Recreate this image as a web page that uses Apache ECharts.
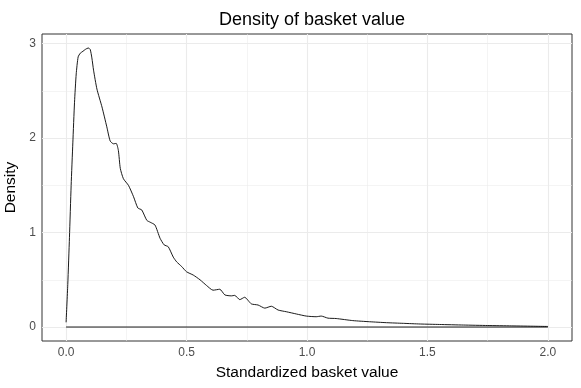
<!DOCTYPE html>
<html>
<head>
<meta charset="utf-8">
<script src="https://cdn.jsdelivr.net/npm/echarts@6/dist/echarts.min.js"></script>
<style>
  html, body { margin: 0; padding: 0; background: #fff; }
  #chart { width: 581px; height: 388px; }
</style>
</head>
<body>
<div id="chart"></div>
<script>
// density estimate
const densX = [0.000, 0.007, 0.014, 0.021, 0.028, 0.035, 0.042, 0.050, 0.059, 0.070,
  0.080, 0.092, 0.100, 0.107, 0.114, 0.128, 0.149, 0.169, 0.183, 0.197,
  0.208, 0.217, 0.225, 0.238, 0.259, 0.280, 0.298, 0.314, 0.335, 0.349,
  0.369, 0.390, 0.407, 0.424, 0.445, 0.459, 0.480, 0.500, 0.528, 0.556,
  0.583, 0.610, 0.638, 0.659, 0.686, 0.700, 0.721, 0.741, 0.769, 0.797,
  0.825, 0.852, 0.880, 0.914, 0.956, 0.997, 1.038, 1.059, 1.087, 1.121,
  1.19, 1.26, 1.33, 1.40, 1.47, 1.55, 1.65, 1.75, 1.85, 1.95, 2.00]
const densY = [0.05, 0.45, 0.95, 1.50, 1.95, 2.38, 2.68, 2.86, 2.90, 2.92,
  2.94, 2.955, 2.94, 2.85, 2.72, 2.52, 2.33, 2.12, 1.97, 1.94,
  1.945, 1.87, 1.68, 1.57, 1.50, 1.38, 1.26, 1.24, 1.13, 1.11,
  1.08, 0.94, 0.87, 0.85, 0.74, 0.69, 0.64, 0.585, 0.55, 0.50,
  0.44, 0.39, 0.40, 0.34, 0.33, 0.335, 0.29, 0.315, 0.245, 0.233,
  0.20, 0.22, 0.18, 0.162, 0.138, 0.116, 0.109, 0.116, 0.094, 0.090,
  0.068, 0.056, 0.046, 0.039, 0.032, 0.027, 0.021, 0.016, 0.012, 0.008, 0.006]

const xTicks = [0, 0.5, 1, 1.5, 2]
const xMinor = [0.25, 0.75, 1.25, 1.75]
const yTicks = [0, 1, 2, 3]
const yMinor = [0.5, 1.5, 2.5]

const curve = densX.map((x, i) => [x, densY[i]])
const baseline = [[0, 0], [2, 0]]

const gridLines = []
xTicks.forEach(v => gridLines.push({ xAxis: v, lineStyle: { width: 1.1 } }))
xMinor.forEach(v => gridLines.push({ xAxis: v, lineStyle: { width: 0.55 } }))
yTicks.forEach(v => gridLines.push({ yAxis: v, lineStyle: { width: 1.1 } }))
yMinor.forEach(v => gridLines.push({ yAxis: v, lineStyle: { width: 0.55 } }))

const font = 'Liberation Sans, Arial, sans-serif'
const myChart = echarts.init(document.getElementById('chart'))
const option = {
  animation: false,
  title: {
    text: 'Density of basket value',
    left: 307,
    top: 6,
    textAlign: 'center',
    textStyle: { fontFamily: font, fontSize: 18, fontWeight: 'normal', color: '#000' }
  },
  grid: {
    left: 42, right: 9, top: 34, bottom: 47,
    outerBoundsMode: 'none',
    containLabel: false,
    show: true, borderColor: '#333', borderWidth: 1, backgroundColor: 'transparent'
  },
  xAxis: {
    type: 'value',
    min: -0.1, max: 2.1,
    name: 'Standardized basket value',
    nameLocation: 'middle',
    nameGap: 24,
    nameTextStyle: { fontFamily: font, fontSize: 15.5, color: '#000' },
    axisLine: { show: false },
    axisTick: { show: true, length: 3.7, lineStyle: { color: '#333' }, customValues: xTicks },
    axisLabel: {
      fontFamily: font, fontSize: 12, color: '#4d4d4d', margin: 6,
      customValues: xTicks,
      formatter: v => v.toFixed(1)
    },
    splitLine: { show: false }
  },
  yAxis: {
    type: 'value',
    min: -0.148, max: 3.103,
    name: 'Density',
    nameLocation: 'middle',
    nameGap: 20,
    nameRotate: 90,
    nameTextStyle: { fontFamily: font, fontSize: 15.5, color: '#000' },
    axisLine: { show: false },
    axisTick: { show: true, length: 3.7, lineStyle: { color: '#333' }, customValues: yTicks },
    axisLabel: {
      fontFamily: font, fontSize: 12, color: '#4d4d4d', margin: 6,
      customValues: yTicks
    },
    splitLine: { show: false }
  },
  series: [
    {
      type: 'line',
      data: [],
      z: 1,
      silent: true,
      markLine: {
        silent: true,
        z: 1,
        symbol: 'none',
        label: { show: false },
        lineStyle: { color: '#ebebeb', type: 'solid' },
        data: gridLines
      }
    },
    {
      type: 'line',
      data: curve,
      smooth: 0.2,
      showSymbol: false,
      z: 3,
      lineStyle: { color: '#000', width: 0.9 }
    },
    {
      type: 'line',
      data: baseline,
      showSymbol: false,
      z: 3,
      lineStyle: { color: '#000', width: 0.9 }
    }
  ]
}
myChart.setOption(option)
</script>
</body>
</html>
